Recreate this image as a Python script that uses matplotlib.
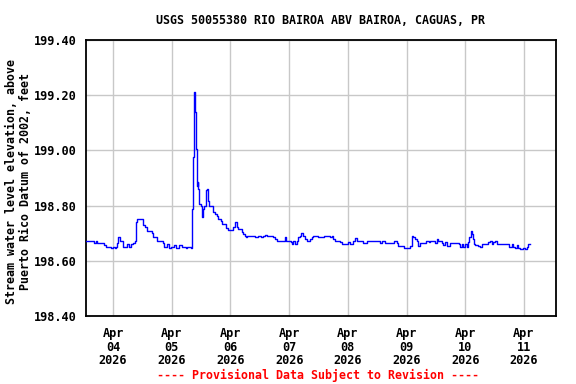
import matplotlib
matplotlib.use("Agg")
import matplotlib.pyplot as plt
import matplotlib.dates as mdates
import numpy as np
from datetime import datetime, timedelta

# hours relative to 2026-04-04 00:00
hours = [-11.2, -7.8, -7.0, -6.4, -3.7, -3.0, -0.9, 0.1, 0.7, 1.2, 1.8, 2.2, 2.9, 4.2, 5.9, 6.5, 7.5, 8.3, 9.0,
         9.5, 9.9, 12.3, 13.0, 14.0, 16.1, 16.5, 17.9, 20.3, 20.9, 22.2, 22.9, 23.6, 24.9, 25.6, 27.0, 28.3,
         29.7, 30.4, 31.8,
         32.4, 32.8, 33.1, 33.5, 33.8, 34.2, 34.5, 34.6, 34.9, 35.3, 35.9, 36.3, 36.9, 37.3, 37.9, 38.3, 38.7,
         39.0, 39.4, 41.0, 41.7, 42.4, 43.1, 44.0, 44.7, 46.1, 46.9, 49.2, 49.9, 50.6, 51.2, 52.6, 53.3, 54.0,
         54.4, 54.7,
         58.1, 59.4, 60.5, 61.2, 62.2, 62.8, 65.6, 66.2, 66.9, 70.3, 70.7, 72.7, 73.1, 73.7, 74.4, 75.1, 75.8,
         76.5, 76.8, 77.8, 78.5, 79.2, 80.6, 81.2, 81.9, 84.0, 86.3, 88.7, 89.4, 90.1, 90.8, 92.1, 92.8, 93.5,
         96.2, 96.9, 98.3, 99.0, 99.7,
         100.1, 102.4, 103.7, 109.2, 109.9, 111.2, 115.0, 116.0, 116.4, 119.1, 121.4, 122.1, 122.4, 122.8,
         123.5, 124.2, 124.8, 125.5, 127.9, 129.0, 129.6, 131.7, 132.4, 133.0, 133.7, 134.4, 135.1, 135.8,
         136.5, 137.8,
         141.6, 141.9, 142.6, 143.2, 143.9, 144.6, 145.3, 145.7, 146.2, 146.6, 147.0, 147.6, 148.0, 149.4,
         150.1, 150.7, 153.4, 154.1, 154.8, 155.5, 156.2, 156.9, 162.0, 163.0, 163.6, 164.3, 165.0, 165.7,
         166.4, 167.8, 168.5, 169.2, 169.8, 170.5]
elev = [198.672, 198.663, 198.672, 198.663, 198.656, 198.651, 198.645, 198.651, 198.645, 198.651, 198.665,
        198.688, 198.672, 198.651, 198.660, 198.651, 198.660, 198.665, 198.672,
        198.739, 198.752, 198.730, 198.721, 198.709, 198.700, 198.685, 198.672, 198.663, 198.651, 198.660,
        198.645, 198.651, 198.656, 198.648, 198.656, 198.651, 198.645, 198.651, 198.645,
        198.788, 198.976, 199.210, 199.139, 199.006, 198.897, 198.870, 198.885, 198.860, 198.806, 198.800,
        198.757, 198.788, 198.800, 198.855, 198.860, 198.836, 198.818, 198.800, 198.776, 198.770, 198.761,
        198.752, 198.745, 198.733, 198.718, 198.713, 198.724, 198.739, 198.721, 198.715, 198.706, 198.697,
        198.691, 198.685, 198.691,
        198.685, 198.691, 198.685, 198.691, 198.695, 198.691, 198.685, 198.679, 198.673, 198.688, 198.673,
        198.667, 198.661, 198.670, 198.661, 198.673, 198.685, 198.691, 198.700, 198.691, 198.679, 198.673,
        198.679, 198.685, 198.691, 198.688, 198.691, 198.685, 198.691, 198.679, 198.673, 198.670, 198.667,
        198.661, 198.667, 198.661, 198.673, 198.682, 198.673,
        198.673, 198.663, 198.673, 198.663, 198.673, 198.663, 198.673, 198.663, 198.655, 198.645, 198.655,
        198.673, 198.691, 198.685, 198.679, 198.670, 198.655, 198.663, 198.673, 198.667, 198.673, 198.663,
        198.680, 198.673, 198.670, 198.663, 198.658, 198.667, 198.655, 198.663,
        198.661, 198.651, 198.661, 198.651, 198.661, 198.651, 198.667, 198.685, 198.709, 198.697, 198.679,
        198.661, 198.658, 198.655, 198.651, 198.661, 198.667, 198.673, 198.661, 198.667, 198.673, 198.661,
        198.651, 198.661, 198.651, 198.648, 198.658, 198.648, 198.642, 198.645, 198.642, 198.651, 198.661,
        198.661]

title = "USGS 50055380 RIO BAIROA ABV BAIROA, CAGUAS, PR"
ylabel = "Stream water level elevation, above\nPuerto Rico Datum of 2002, feet"
footer = "---- Provisional Data Subject to Revision ----"
yticks = [198.40, 198.60, 198.80, 199.00, 199.20, 199.40]
xtick_days = [4, 5, 6, 7, 8, 9, 10, 11]

base = datetime(2026, 4, 4)
times = [base + timedelta(hours=h) for h in hours]

font = "DejaVu Sans Mono"
fig = plt.figure(figsize=(5.76, 3.84), dpi=100)
ax = fig.add_axes([86/576, 1-316/384, 470/576, 276/384])
ax.plot(times, elev, color="#0000ff", lw=1.0, drawstyle="steps-post", zorder=3)

ax.set_ylim(198.40, 199.40)
ax.set_yticks(yticks)
ax.set_yticklabels([f"{v:.2f}" for v in yticks], fontfamily=font, fontweight="bold", fontsize=8.6)
xt = [datetime(2026, 4, d) for d in xtick_days]
ax.set_xticks(xt)
ax.set_xticklabels([d.strftime("%b\n%d\n%Y") for d in xt], fontfamily=font, fontweight="bold",
                   fontsize=8.6, linespacing=1.05)
ax.set_xlim(base + timedelta(hours=-11.04), base + timedelta(hours=181.1))
ax.grid(True, color="#c8c8c8", lw=1.0, zorder=0)
ax.tick_params(axis="both", direction="in", length=3, width=0.8, color="#c8c8c8")
ax.tick_params(axis="y", pad=7)
ax.tick_params(axis="x", pad=8)
for s in ax.spines.values():
    s.set_linewidth(1.3)
    s.set_color("black")

fig.text(320/576, 1-20/384, title, ha="center", va="center", fontfamily=font, fontweight="bold", fontsize=8.4)
fig.text(19/576, 1-181/384, ylabel, ha="center", va="center", rotation=90, fontfamily=font,
         fontweight="bold", fontsize=8.4, linespacing=1.1, multialignment="center")
fig.text(318/576, 1-375/384, footer, ha="center", va="center", fontfamily=font, fontweight="bold",
         fontsize=8.4, color="red")

fig.savefig("out.png", dpi=100)
